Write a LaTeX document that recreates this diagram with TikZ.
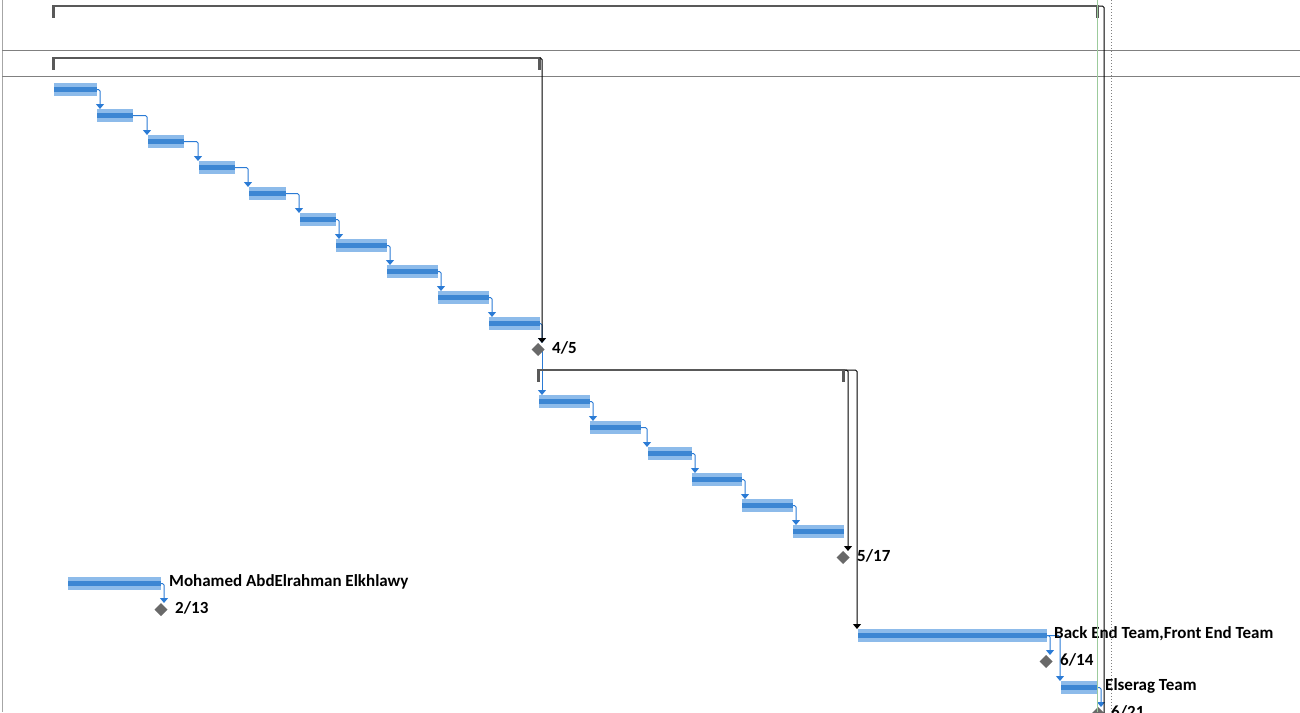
\documentclass[tikz,border=0pt]{standalone}
\usepackage{fontspec}
\setmainfont{Carlito}
\usetikzlibrary{arrows.meta,shapes.geometric}

\definecolor{barlight}{HTML}{8DBBEA}
\definecolor{bardark}{HTML}{3C86D3}
\definecolor{linkblue}{HTML}{2B7BD5}
\definecolor{sumgray}{HTML}{595959}
\definecolor{msgray}{HTML}{696969}
\definecolor{gridgray}{HTML}{808080}
\definecolor{todaygreen}{HTML}{9CCB9C}

\pgfdeclarelayer{bg}
\pgfsetlayers{bg,main}

\tikzset{
  task/.style={fill=barlight, minimum height=13pt, inner sep=0pt, outer sep=0pt, anchor=west,
    path picture={\fill[bardark] ([yshift=2.5pt]path picture bounding box.west) rectangle ([yshift=-2.5pt]path picture bounding box.east);}},
  milestone/.style={diamond, fill=msgray, minimum width=13pt, minimum height=13pt, inner sep=0pt, outer sep=0pt},
  summary/.style={minimum height=12.5pt, inner sep=0pt, outer sep=0pt, anchor=north west,
    path picture={
      \fill[sumgray] (path picture bounding box.north west) rectangle ([yshift=-2pt]path picture bounding box.north east);
      \fill[sumgray] (path picture bounding box.north west) rectangle ([xshift=3pt]path picture bounding box.south west);
      \fill[sumgray] (path picture bounding box.north east) rectangle ([xshift=-3pt]path picture bounding box.south east);}},
  link/.style={linkblue, line width=1pt, rounded corners=1.5pt, -{Triangle[width=8pt,length=5pt]}},
  sumlink/.style={black, line width=1pt, rounded corners=1.5pt, -{Triangle[width=8pt,length=5pt]}},
  lbl/.style={font=\fontsize{17}{19}\selectfont\bfseries, inner sep=0pt, anchor=base west}
}

\begin{document}
\begin{tikzpicture}[x=1pt, y=-1pt]

    \useasboundingbox (0,0) rectangle (1300,712);
    \clip (0,0) rectangle (1300,712);

    % grid of the chart
    \draw[gridgray!70, line width=1pt] (2.5,0) -- (2.5,712);
    \draw[gridgray, line width=1pt] (2,50.5) -- (1300,50.5);
    \draw[gridgray, line width=1pt] (2,76.5) -- (1300,76.5);

    % summary bars
    \node[summary, minimum width=1047pt] (s1) at (52,5) {};
    \node[summary, minimum width=489pt] (s2) at (52,57) {};
    \node[summary, minimum width=308pt] (s3) at (537,369) {};

    % first phase
    \node[task, minimum width=43pt] (t1) at (54,89.5) {};
    \node[task, minimum width=36pt] (t2) at (97,115.5) {};
    \node[task, minimum width=36pt] (t3) at (148,141.5) {};
    \node[task, minimum width=36pt] (t4) at (199,167.5) {};
    \node[task, minimum width=37pt] (t5) at (249,193.5) {};
    \node[task, minimum width=36pt] (t6) at (300,219.5) {};
    \node[task, minimum width=51pt] (t7) at (336,245.5) {};
    \node[task, minimum width=51pt] (t8) at (387,271.5) {};
    \node[task, minimum width=51pt] (t9) at (438,297.5) {};
    \node[task, minimum width=51pt] (t10) at (489,323.5) {};
    \node[milestone] (m1) at (538,349.5) {};
    \node[lbl] (m1l) at (552,353) {4/5};

    % second phase
    \node[task, minimum width=51pt] (t12) at (539,401.5) {};
    \node[task, minimum width=51pt] (t13) at (590,427.5) {};
    \node[task, minimum width=44pt] (t14) at (648,453.5) {};
    \node[task, minimum width=50pt] (t15) at (692,479.5) {};
    \node[task, minimum width=51pt] (t16) at (742,505.5) {};
    \node[task, minimum width=51pt] (t17) at (793,531.5) {};
    \node[milestone] (m2) at (843,557.5) {};
    \node[lbl] (m2l) at (857,561) {5/17};

    % resources
    \node[task, minimum width=93pt] (t19) at (68,583.5) {};
    \node[lbl] (t19l) at ([shift={(8,3)}]t19.east) {Mohamed AbdElrahman Elkhlawy};
    \node[milestone] (m3) at (161,609.5) {};
    \node[lbl] (m3l) at (175,613) {2/13};

    \node[task, minimum width=189pt] (t21) at (858,635.5) {};
    \node[lbl] (t21l) at ([shift={(7,3)}]t21.east) {Back End Team,Front End Team};
    \node[milestone] (m4) at (1046,661.5) {};
    \node[lbl] (m4l) at (1060,665) {6/14};

    \node[task, minimum width=37pt] (t23) at (1061,687.5) {};
    \node[lbl] (t23l) at ([shift={(7,3)}]t23.east) {Elserag Team};
    \node[milestone] (m5) at (1098,713.5) {};
    \node[lbl] (m5l) at (1111,717) {6/21};

    \coordinate (endlink) at (1104,740);

    % links between tasks
    \begin{pgfonlayer}{bg}
      \draw[link] (t1.east) -| ([xshift=3pt]t1.east |- t2.north);
      \draw[link] (t2.east) -| ([xshift=-1pt]t3.north west);
      \draw[link] (t3.east) -| ([xshift=-1pt]t4.north west);
      \draw[link] (t4.east) -| ([xshift=-1pt]t5.north west);
      \draw[link] (t5.east) -| ([xshift=-1pt]t6.north west);
      \draw[link] (t6.east) -| ([xshift=3pt]t6.east |- t7.north);
      \draw[link] (t7.east) -| ([xshift=3pt]t7.east |- t8.north);
      \draw[link] (t8.east) -| ([xshift=3pt]t8.east |- t9.north);
      \draw[link] (t9.east) -| ([xshift=3pt]t9.east |- t10.north);
      \draw[link] (t10.east) -| ([xshift=2pt]t10.east |- m1.north);
      \draw[link] ([xshift=4pt]m1.center) -- ([xshift=3pt]t12.north west);

      \draw[link] (t12.east) -| ([xshift=3pt]t12.east |- t13.north);
      \draw[link] (t13.east) -| ([xshift=-1pt]t14.north west);
      \draw[link] (t14.east) -| ([xshift=3pt]t14.east |- t15.north);
      \draw[link] (t15.east) -| ([xshift=3pt]t15.east |- t16.north);
      \draw[link] (t16.east) -| ([xshift=3pt]t16.east |- t17.north);

      \draw[link] (t19.east) -| ([xshift=3pt]t19.east |- m3.north);
      \draw[link] (t21.east) -| ([xshift=3pt]t21.east |- m4.north);
      \draw[link] (t21.east) -| ([xshift=-1pt]t23.north west);
      \draw[link] (t23.east) -| ([xshift=3pt]t23.east |- m5.north);
    \end{pgfonlayer}

    % links from summaries
    \draw[sumlink] ([yshift=-1pt]s2.north east) -| ([xshift=4pt]m1.north);
    \draw[sumlink] ([yshift=-1pt]s3.north east) -| ([xshift=5pt]m2.north);
    \draw[sumlink] ([yshift=-1pt]s3.north east) -| ([xshift=-1pt]t21.north west);
    \draw[black, line width=1pt, rounded corners=1.5pt] ([yshift=-1pt]s1.north east) -| (endlink);

    % status lines
    \draw[todaygreen, line width=1pt] (1097.5,0) -- (1097.5,712);
    \draw[gridgray, line width=1pt, dotted] (1111.5,0) -- (1111.5,712);

\end{tikzpicture}
\end{document}
